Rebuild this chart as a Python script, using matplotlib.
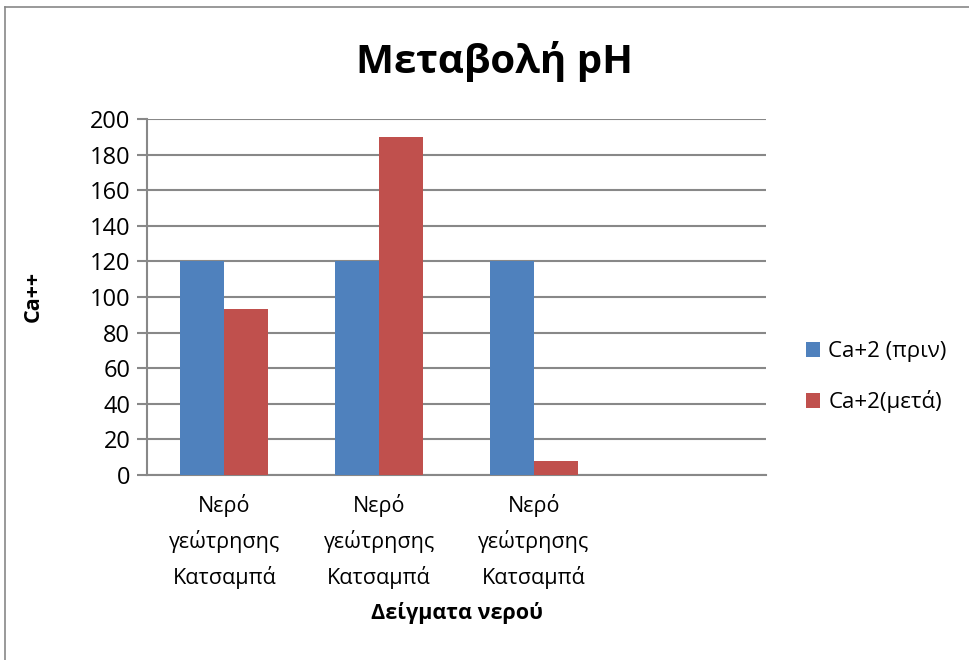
import matplotlib
matplotlib.use("Agg")
import matplotlib.pyplot as plt
from matplotlib.lines import Line2D
from matplotlib.patches import Patch
import numpy as np

plt.rcParams['font.family'] = ['Open Sans', 'DejaVu Sans']

categories = ["Νερό\nγεώτρησης\nΚατσαμπά", "Νερό\nγεώτρησης\nΚατσαμπά", "Νερό\nγεώτρησης\nΚατσαμπά"]
series_names = ["Ca+2 (πριν)", "Ca+2(μετά)"]
before = [120, 120, 120]
after = [93, 190, 8]
yticks = [0, 20, 40, 60, 80, 100, 120, 140, 160, 180, 200]

blue = "#4F81BD"
red = "#C0504D"
grid_c = "#888888"

W, H = 969, 660
fig = plt.figure(figsize=(W / 100, H / 100), dpi=100)
ax = fig.add_axes([147 / W, 1 - 475 / H, (766 - 147) / W, (475 - 119) / H])

x = np.arange(len(categories))
bw = 0.284
ax.bar(x - bw / 2, before, width=bw, color=blue, label=series_names[0], zorder=3)
ax.bar(x + bw / 2, after, width=bw, color=red, label=series_names[1], zorder=3)

ax.set_xlim(-0.5, 3.5)
ax.set_ylim(0, 200)
ax.set_yticks(yticks)
ax.set_xticks(x)
ax.set_xticklabels(categories, fontsize=15.5, linespacing=1.7)
ax.tick_params(axis='y', labelsize=17, length=7, width=1.5, color=grid_c, pad=5)
ax.tick_params(axis='x', length=0, pad=14)
ax.yaxis.grid(True, color=grid_c, linewidth=1.5, zorder=0)
ax.set_axisbelow(True)
for s in ['top', 'right']:
    ax.spines[s].set_visible(False)
for s in ['left', 'bottom']:
    ax.spines[s].set_color(grid_c)
    ax.spines[s].set_linewidth(1.5)

fig.text(33 / W, 1 - 297 / H, "Ca++", fontsize=15.5, fontweight='bold',
         ha='center', va='center', rotation=90)
fig.text(457 / W, 1 - 613 / H, "Δείγματα νερού", fontsize=15.5, fontweight='bold',
         ha='center', va='center')
fig.text(495 / W, 1 - 62 / H, "Μεταβολή pH", fontsize=29, fontweight='bold',
         ha='center', va='center')

handles = [Patch(facecolor=blue), Patch(facecolor=red)]
fig.legend(handles, series_names, loc='center left',
           bbox_to_anchor=(806 / W, 1 - 377 / H), frameon=False, fontsize=16,
           handlelength=0.65, handleheight=0.65, handletextpad=0.35, labelspacing=1.25,
           borderpad=0, borderaxespad=0)

fig.add_artist(Line2D([5 / W, 5 / W], [0, 1 - 7 / H], color="#888888", linewidth=1.2,
                      transform=fig.transFigure))
fig.add_artist(Line2D([5 / W, 1], [1 - 7 / H, 1 - 7 / H], color="#888888", linewidth=1.2,
                      transform=fig.transFigure))

fig.savefig("out.png", dpi=100)
